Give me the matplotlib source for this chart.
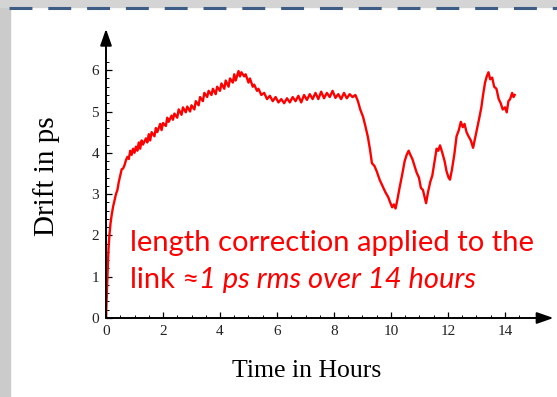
import numpy as np
import matplotlib.pyplot as plt
from matplotlib.patches import Rectangle
from matplotlib.lines import Line2D

# drift values (hours, ps)
hours = [0.00, 0.03, 0.06, 0.09, 0.12, 0.16, 0.20, 0.25, 0.30, 0.35, 0.40, 0.45, 0.50, 0.55, 0.60,
         0.65, 0.70, 0.75, 0.80, 0.85, 0.90, 0.95, 1.00, 1.05, 1.10, 1.15, 1.20, 1.25, 1.30, 1.40,
         1.45, 1.50, 1.55, 1.60, 1.70, 1.75, 1.80, 1.90, 1.95, 2.00, 2.10, 2.15, 2.20, 2.30, 2.35,
         2.40, 2.50, 2.55, 2.65, 2.70, 2.80, 2.85, 2.95, 3.00, 3.10, 3.15, 3.25, 3.30, 3.40, 3.45,
         3.55, 3.60, 3.70, 3.75, 3.85, 3.90, 4.00, 4.05, 4.15, 4.20, 4.30, 4.35, 4.45, 4.50, 4.55,
         4.65, 4.70, 4.75, 4.85, 4.90, 5.00, 5.05, 5.15, 5.20, 5.30, 5.35, 5.45, 5.55, 5.65, 5.75,
         5.85, 5.95, 6.05, 6.15, 6.25, 6.35, 6.45, 6.55, 6.65, 6.75, 6.85, 6.95, 7.05, 7.15, 7.25,
         7.35, 7.45, 7.55, 7.65, 7.75, 7.85, 7.95, 8.05, 8.15, 8.25, 8.35, 8.45, 8.55, 8.65, 8.75,
         8.84, 8.92, 9.02, 9.10, 9.19, 9.27, 9.33, 9.42, 9.50, 9.60, 9.72, 9.80, 9.90, 9.97, 10.04,
         10.10, 10.16, 10.22, 10.30, 10.40, 10.48, 10.55, 10.62, 10.68, 10.75, 10.82, 10.90, 10.98,
         11.05, 11.12, 11.18, 11.23, 11.30, 11.38, 11.45, 11.52, 11.60, 11.66, 11.72, 11.80, 11.88,
         11.95, 12.02, 12.07, 12.14, 12.22, 12.30, 12.38, 12.45, 12.52, 12.58, 12.65, 12.72, 12.80,
         12.88, 12.95, 13.03, 13.10, 13.17, 13.23, 13.30, 13.36, 13.42, 13.48, 13.55, 13.62, 13.70,
         13.78, 13.85, 13.92, 14.00, 14.06, 14.12, 14.18, 14.25, 14.30, 14.34]
drift = [0.00, 0.60, 1.20, 1.70, 2.00, 2.30, 2.50, 2.70, 2.85, 3.00, 3.10, 3.30, 3.45, 3.60, 3.62,
         3.70, 3.82, 3.90, 3.85, 4.05, 3.95, 4.10, 4.00, 4.15, 4.05, 4.25, 4.10, 4.30, 4.20, 4.35,
         4.25, 4.45, 4.30, 4.50, 4.40, 4.60, 4.50, 4.70, 4.55, 4.72, 4.65, 4.85, 4.75, 4.90, 4.80,
         4.95, 4.85, 5.05, 4.92, 5.10, 4.98, 5.12, 5.00, 5.15, 5.05, 5.25, 5.15, 5.35, 5.25, 5.45,
         5.35, 5.50, 5.40, 5.55, 5.42, 5.60, 5.50, 5.68, 5.55, 5.75, 5.60, 5.80, 5.70, 5.90, 5.75,
         5.98, 5.85, 5.95, 5.85, 5.90, 5.70, 5.80, 5.60, 5.65, 5.50, 5.55, 5.40, 5.45, 5.30, 5.38,
         5.25, 5.35, 5.22, 5.30, 5.20, 5.32, 5.22, 5.35, 5.25, 5.38, 5.22, 5.40, 5.28, 5.42, 5.30,
         5.45, 5.30, 5.48, 5.32, 5.45, 5.35, 5.50, 5.33, 5.42, 5.30, 5.45, 5.32, 5.42, 5.35, 5.40,
         5.25, 5.05, 4.87, 4.65, 4.38, 4.05, 3.75, 3.68, 3.55, 3.35, 3.17, 3.05, 2.93, 2.80, 2.68,
         2.75, 2.65, 2.85, 3.15, 3.50, 3.80, 3.95, 4.05, 3.95, 3.85, 3.70, 3.52, 3.40,
         3.15, 3.10, 2.92, 2.78, 3.05, 3.30, 3.45, 3.75, 4.10, 4.05, 4.18, 4.00, 3.80,
         3.55, 3.40, 3.35, 3.60, 3.95, 4.40, 4.55, 4.75, 4.62, 4.70, 4.50, 4.40, 4.30,
         4.12, 4.35, 4.60, 4.85, 5.10, 5.40, 5.70, 5.85, 5.95, 5.78, 5.82, 5.60, 5.55,
         5.30, 5.20, 5.05, 5.10, 4.98, 5.25, 5.30, 5.45, 5.35, 5.40]

x_ticks = [0, 2, 4, 6, 8, 10, 12, 14]
y_ticks = [0, 1, 2, 3, 4, 5, 6]

W, H = 557, 397
fig = plt.figure(figsize=(W / 100, H / 100), dpi=100)
fig.patch.set_facecolor('white')

# slide decoration: grey frame on the left/top and dashed blue rule
fig.add_artist(Rectangle((0, 0), 10 / W, 1, transform=fig.transFigure, color='#cbcbcb', zorder=0))
fig.add_artist(Rectangle((0, 1 - 7 / H), 1, 7 / H, transform=fig.transFigure, color='#d4d4d4', zorder=0))
fig.add_artist(Line2D([9 / W, 1], [1 - 8 / H, 1 - 8 / H], transform=fig.transFigure,
                      color='#3d5c86', lw=2.2, linestyle=(0, (7.5, 5.2)), zorder=1))

xpx, ypx = 28.5, 41.3
xmax, ymax = 15.7, 7.0
ax = fig.add_axes([106 / W, 79 / H, xmax * xpx / W, ymax * ypx / H])
ax.set_xlim(0, xmax)
ax.set_ylim(0, ymax)
for s in ax.spines.values():
    s.set_visible(False)
ax.patch.set_alpha(0)

ax.plot(hours, drift, color='red', lw=1.7, zorder=3)

# axes drawn as arrows
arw = dict(arrowstyle='-|>,head_length=1.0,head_width=0.35', lw=1.4, color='black',
           shrinkA=0, shrinkB=0)
ax.annotate('', xy=(xmax, 0), xytext=(0, 0), arrowprops=arw, annotation_clip=False)
ax.annotate('', xy=(0, ymax), xytext=(0, 0), arrowprops=arw, annotation_clip=False)

ax.set_xticks(x_ticks)
ax.set_yticks(y_ticks)
ax.set_xticks(np.arange(0, 14.6, 0.5), minor=True)
ax.set_yticks(np.arange(0, 6.3, 0.2), minor=True)
ax.tick_params(which='major', direction='in', length=4, width=0.9, pad=5,
               labelsize=11, labelfontfamily='Liberation Serif', labelcolor='#222222')
ax.tick_params(which='minor', direction='in', length=2.2, width=0.7)

fig.text(307 / W, 1 - 371 / H, 'Time in Hours', family='Liberation Serif', fontsize=18.5,
         ha='center', va='center')
fig.text(47 / W, 1 - 176 / H, 'Drift in ps', family='Liberation Serif', fontsize=21,
         ha='center', va='center', rotation=90)

# red note
red = '#ff0000'
fs = 21
fig.text(130 / W, 1 - 251 / H, 'length correction applied to the', color=red,
         family='Lato', fontsize=fs, ha='left', va='baseline')
t0 = fig.text(130 / W, 1 - 288 / H, 'link \u2248', color=red, family='Lato', fontsize=fs,
              ha='left', va='baseline')
fig.canvas.draw()
bb = t0.get_window_extent()
fig.text(bb.x1 / W, 1 - 288 / H, '1 ps rms over 14 hours', color=red, family='Lato',
         style='italic', fontsize=fs, ha='left', va='baseline')

fig.savefig('out.png', dpi=100)
